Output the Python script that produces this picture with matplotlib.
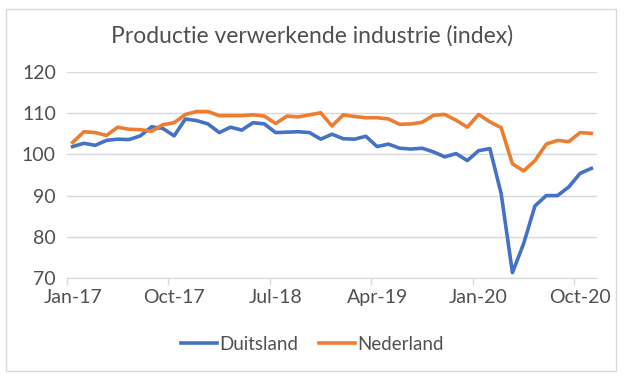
import matplotlib
matplotlib.use("Agg")
import matplotlib.pyplot as plt
from matplotlib.patches import Rectangle

plt.rcParams['font.family'] = ['Lato', 'DejaVu Sans']

months = ["Jan-17","Feb-17","Mar-17","Apr-17","May-17","Jun-17","Jul-17","Aug-17","Sep-17","Oct-17","Nov-17","Dec-17",
          "Jan-18","Feb-18","Mar-18","Apr-18","May-18","Jun-18","Jul-18","Aug-18","Sep-18","Oct-18","Nov-18","Dec-18",
          "Jan-19","Feb-19","Mar-19","Apr-19","May-19","Jun-19","Jul-19","Aug-19","Sep-19","Oct-19","Nov-19","Dec-19",
          "Jan-20","Feb-20","Mar-20","Apr-20","May-20","Jun-20","Jul-20","Aug-20","Sep-20","Oct-20","Nov-20"]

duitsland = [101.9, 102.7, 102.2, 103.4, 103.7, 103.6, 104.5, 106.7, 106.3, 104.5, 108.6, 108.2,
             107.4, 105.3, 106.6, 105.9, 107.7, 107.4, 105.3, 105.4, 105.5, 105.3, 103.7, 104.9,
             103.8, 103.7, 104.4, 101.9, 102.5, 101.5, 101.3, 101.5, 100.6, 99.4, 100.2, 98.5,
             100.9, 101.4, 90.5, 71.3, 78.4, 87.5, 90.0, 90.0, 92.1, 95.4, 96.6]

nederland = [102.9, 105.5, 105.3, 104.6, 106.6, 106.1, 106.0, 105.6, 107.2, 107.7, 109.7, 110.4,
             110.4, 109.4, 109.4, 109.4, 109.6, 109.3, 107.5, 109.3, 109.1, 109.6, 110.1, 106.9,
             109.6, 109.2, 108.9, 108.9, 108.6, 107.3, 107.4, 107.8, 109.5, 109.7, 108.3, 106.6,
             109.7, 107.9, 106.5, 97.7, 96.0, 98.5, 102.5, 103.4, 103.1, 105.3, 105.1]

yticks = [70, 80, 90, 100, 110, 120]
label_every = 9

txt = '#505050'
fig = plt.figure(figsize=(6.25, 3.79), dpi=100)
fig.patches.append(Rectangle((6/625, 1-371/379), 610/625, 362/379, transform=fig.transFigure,
                             fill=False, edgecolor='#d9d9d9', linewidth=1))
ax = fig.add_axes([67/625, 1-278/379, 530/625, 206/379])

x = list(range(len(months)))
ax.plot(x, duitsland, color='#4472C4', lw=2.6, label='Duitsland', solid_joinstyle='round')
ax.plot(x, nederland, color='#ED7D31', lw=2.6, label='Nederland', solid_joinstyle='round')

ax.set_xlim(-0.5, len(months) - 0.5)
ax.set_ylim(70, 120)
ax.set_yticks(yticks)
ax.yaxis.grid(True, color='#d9d9d9', lw=1)
ax.set_axisbelow(True)
for s in ['top', 'right', 'left']:
    ax.spines[s].set_visible(False)
ax.spines['bottom'].set_color('#d9d9d9')
ax.tick_params(axis='y', length=0, labelsize=14, labelcolor=txt, pad=8)

centers = x[::label_every]
ax.set_xticks([c - 0.5 for c in centers])
ax.set_xticklabels([])
ax.tick_params(axis='x', which='major', length=5, color='#d9d9d9', width=1)
ax.set_xticks(centers, minor=True)
ax.set_xticklabels([months[c] for c in centers], minor=True)
ax.tick_params(axis='x', which='minor', length=0, labelsize=14, labelcolor=txt, pad=8)

fig.text(0.5, 1-36/379, 'Productie verwerkende industrie (index)', ha='center', va='center',
         fontsize=16.5, color=txt)

fig.legend(loc='center', bbox_to_anchor=(0.5, 1-344/379), ncol=2, frameon=False,
           fontsize=13.5, labelcolor=txt, handlelength=1.9, handletextpad=0.15, columnspacing=1.1)

fig.savefig('out.png', dpi=100)
